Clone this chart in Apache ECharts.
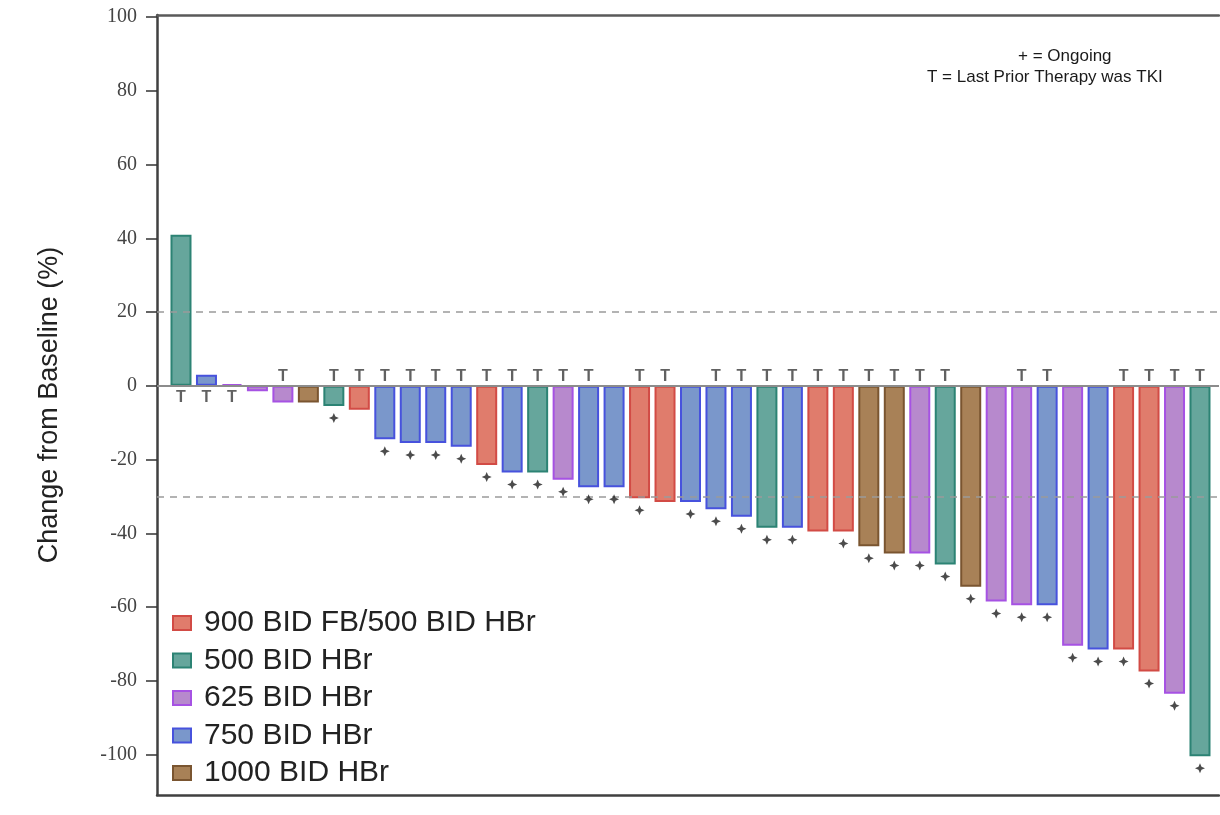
<!DOCTYPE html>
<html>
<head>
<meta charset="utf-8">
<script src="https://cdn.jsdelivr.net/npm/echarts@6/dist/echarts.min.js"></script>
<style>
html,body{margin:0;padding:0;background:#fff;}
#chart{width:1220px;height:815px;}
</style>
</head>
<body>
<div id="chart"></div>
<script>
// ---- Data ----
const groupNames = ['900 BID FB/500 BID HBr', '500 BID HBr', '625 BID HBr', '750 BID HBr', '1000 BID HBr'];
const groupFill = ['#E07C6C', '#66A69C', '#B789CD', '#7A97CB', '#A88157'];
const groupBorder = ['#D24B45', '#2C8374', '#A652E3', '#4752DD', '#7A5530'];

// patient order 1..41 (waterfall, sorted)
const changePct = [41, 3, 0.5, -1.5, -4.5, -4.5, -5.5, -6.5, -14.5, -15.5, -15.5, -16.5, -21.5, -23.5,
  -23.5, -25.5, -27.5, -27.5, -30.5, -31.5, -31.5, -33.5, -35.5, -38.5, -38.5, -39.5, -39.5, -43.5,
  -45.5, -45.5, -48.5, -54.5, -58.5, -59.5, -59.5, -70.5, -71.5, -71.5, -77.5, -83.5, -100.5];
// dose group index into groupNames
const doseGroup = [1, 3, 2, 2, 2, 4, 1, 0, 3, 3, 3, 3, 0, 3,
  1, 2, 3, 3, 0, 0, 3, 3, 3, 1, 3, 0, 0, 4,
  4, 2, 1, 4, 2, 2, 3, 2, 3, 0, 0, 2, 1];
// T = last prior therapy was TKI
const lastTKI = [1, 1, 1, 0, 1, 0, 1, 1, 1, 1, 1, 1, 1, 1,
  1, 1, 1, 0, 1, 1, 0, 1, 1, 1, 1, 1, 1, 1,
  1, 1, 1, 0, 0, 1, 1, 0, 0, 1, 1, 1, 1];
// + = ongoing
const ongoing = [0, 0, 0, 0, 0, 0, 1, 0, 1, 1, 1, 1, 1, 1,
  1, 1, 1, 1, 1, 0, 1, 1, 1, 1, 1, 0, 1, 1,
  1, 1, 1, 1, 1, 1, 1, 1, 1, 1, 1, 1, 1];
const yTicks = [-100, -80, -60, -40, -20, 0, 20, 40, 60, 80, 100];
const refLines = [20, -30];
const noteLines = ['+ = Ongoing', 'T = Last Prior Therapy was TKI'];
const yTitle = 'Change from Baseline (%)';

// ---- Build options ----
const barSeries = groupNames.map((name, g) => ({
  name: name,
  type: 'bar',
  barWidth: 21,
  barGap: '-100%',
  itemStyle: { color: groupFill[g], borderColor: groupBorder[g], borderWidth: 2 },
  data: changePct.map((v, i) => doseGroup[i] === g ? [i + 1, v] : null).filter(d => d),
  z: 2
}));

const tkiData = [];
changePct.forEach((v, i) => {
  if (lastTKI[i]) {
    tkiData.push({ value: [i + 1, 0], label: { position: v >= 0 ? 'bottom' : 'top', distance: v >= 0 ? 3 : 1 } });
  }
});
const ongoingData = [];
changePct.forEach((v, i) => { if (ongoing[i]) ongoingData.push([i + 1, v]); });

const starPath = 'path://M5,0 L6.5,3.5 L10,5 L6.5,6.5 L5,10 L3.5,6.5 L0,5 L3.5,3.5 Z';
const frameLine = { show: true, onZero: false, lineStyle: { color: '#404040', width: 2.5 } };

const option = {
  animation: false,
  backgroundColor: '#fff',
  grid: { left: 157, top: 15, width: 1062, height: 780 },
  xAxis: [{
    type: 'value', min: 0.058, max: 41.746, position: 'bottom',
    axisLine: frameLine, axisTick: { show: false }, axisLabel: { show: false }, splitLine: { show: false }
  }, {
    type: 'value', min: 0.058, max: 41.746, position: 'top',
    axisLine: { show: true, onZero: false, lineStyle: { color: '#5a5a5a', width: 2.5 } },
    axisTick: { show: false }, axisLabel: { show: false }, splitLine: { show: false }
  }],
  yAxis: {
    type: 'value', min: -111, max: 100.6,
    axisLine: frameLine,
    splitLine: { show: false },
    axisTick: { show: true, length: 11, customValues: yTicks, lineStyle: { color: '#333', width: 1.5 } },
    axisLabel: { customValues: yTicks, margin: 20, fontFamily: 'Liberation Serif', fontSize: 20, color: '#444' },
    name: yTitle, nameLocation: 'middle', nameGap: 94, nameRotate: 90,
    nameTextStyle: { fontFamily: 'Liberation Sans', fontSize: 27, color: '#222' }
  },
  legend: {
    orient: 'vertical', left: 172, top: 608, padding: 0,
    icon: 'rect',
    itemWidth: 18, itemHeight: 14, itemGap: 7.5,
    data: groupNames,
    textStyle: { fontFamily: 'Liberation Sans', fontSize: 30, color: '#222', padding: [0, 0, 0, 8] }
  },
  graphic: [
    { type: 'text', left: 1018, top: 48, style: { text: noteLines[0], fontFamily: 'Liberation Sans', fontSize: 17, fill: '#1a1a1a' } },
    { type: 'text', left: 927, top: 69, style: { text: noteLines[1], fontFamily: 'Liberation Sans', fontSize: 17, fill: '#1a1a1a' } }
  ],
  series: barSeries.concat([
    {
      name: 'TKI', type: 'scatter', symbolSize: 1, itemStyle: { color: 'rgba(0,0,0,0)' },
      label: { show: true, formatter: 'T', fontFamily: 'Liberation Sans', fontSize: 16, fontWeight: 'bold', color: '#3a3a3a' },
      data: tkiData, z: 5,
      markLine: {
        silent: true, symbol: 'none', label: { show: false },
        data: refLines.map(v => ({ yAxis: v, lineStyle: { type: [7, 6], color: '#9a9a9a', width: 1.5 } }))
          .concat([{ yAxis: 0, lineStyle: { type: 'solid', color: '#8c8c8c', width: 2 } }])
      }
    },
    {
      name: 'Ongoing', type: 'scatter', symbol: starPath, symbolSize: 10, symbolOffset: [0, 12],
      itemStyle: { color: '#1e1e1e' }, data: ongoingData, z: 5
    }
  ])
};

const chart = echarts.init(document.getElementById('chart'), null, { renderer: 'canvas' });
chart.setOption(option);
</script>
</body>
</html>
